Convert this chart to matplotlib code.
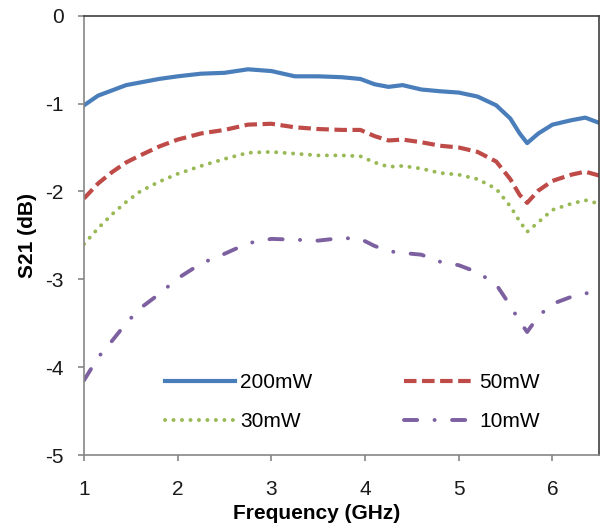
import matplotlib
matplotlib.use("Agg")
import matplotlib.pyplot as plt

plt.rcParams["font.family"] = ["Liberation Sans", "DejaVu Sans"]
plt.rcParams["axes.unicode_minus"] = False
plt.rcParams["lines.scale_dashes"] = False

# frequency points (GHz)
freq = [1.0, 1.15, 1.3, 1.45, 1.6, 1.8, 2.0, 2.25, 2.5, 2.75, 3.0, 3.25, 3.5, 3.75, 3.95,
        4.1, 4.25, 4.4, 4.6, 4.8, 5.0, 5.2, 5.4, 5.55, 5.65, 5.73, 5.85, 6.0, 6.2, 6.35, 6.5]

# S21 (dB) for each pump power
s21_200mw = [-1.02, -0.91, -0.85, -0.79, -0.76, -0.72, -0.69, -0.66, -0.65, -0.61, -0.63, -0.69,
             -0.69, -0.70, -0.72, -0.78, -0.81, -0.79, -0.84, -0.86, -0.875, -0.92, -1.02, -1.17,
             -1.34, -1.45, -1.34, -1.24, -1.19, -1.16, -1.22]
s21_50mw = [-2.08, -1.91, -1.78, -1.67, -1.59, -1.49, -1.41, -1.34, -1.30, -1.24, -1.23, -1.27,
            -1.29, -1.30, -1.30, -1.37, -1.42, -1.41, -1.44, -1.48, -1.50, -1.55, -1.66, -1.86,
            -2.04, -2.13, -1.99, -1.88, -1.81, -1.775, -1.82]
s21_30mw = [-2.60, -2.42, -2.26, -2.12, -2.00, -1.89, -1.80, -1.71, -1.63, -1.56, -1.55, -1.57,
            -1.59, -1.59, -1.60, -1.67, -1.72, -1.71, -1.74, -1.79, -1.81, -1.86, -1.97, -2.17,
            -2.34, -2.46, -2.35, -2.21, -2.14, -2.10, -2.14]
s21_10mw = [-4.15, -3.89, -3.70, -3.50, -3.33, -3.17, -2.99, -2.82, -2.71, -2.59, -2.54, -2.55,
            -2.56, -2.53, -2.54, -2.62, -2.68, -2.70, -2.72, -2.80, -2.84, -2.92, -3.06, -3.30,
            -3.48, -3.60, -3.42, -3.28, -3.20, -3.16, -3.15]

x_ticks = [1, 2, 3, 4, 5, 6]
y_ticks = [-5, -4, -3, -2, -1, 0]

fig = plt.figure(figsize=(6.03, 5.27), dpi=100)
ax = fig.add_axes([84 / 603, 1 - 455 / 527, 515.3 / 603, 439.3 / 527])

l200, = ax.plot(freq, s21_200mw, color="#4a7ebb", lw=3, label="200mW")
l50, = ax.plot(freq, s21_50mw, color="#be4b48", lw=3, dashes=(9, 4), label="50mW")
l30, = ax.plot(freq, s21_30mw, color="#98b954", lw=2.8, dashes=(0.1, 6),
               dash_capstyle="round", label="30mW")
l10, = ax.plot(freq, s21_10mw, color="#7d60a0", lw=2.8, dashes=(9.5, 12.5, 0.1, 12.5),
               dash_capstyle="round", label="10mW")

ax.set_xlim(1, 6.5)
ax.set_ylim(-5, 0)
ax.set_xticks(x_ticks)
ax.set_yticks(y_ticks)

for side in ["left", "bottom"]:
    ax.spines[side].set_color("#868686")
for side in ["top", "right"]:
    ax.spines[side].set_color("#404040")
for s in ax.spines.values():
    s.set_linewidth(1.2)

ax.tick_params(axis="y", direction="out", length=4.3, width=1.2, color="#868686",
               labelsize=15, pad=10.5, labelcolor="#1a1a1a")
ax.tick_params(axis="x", direction="out", length=4.3, width=1.2, color="#868686",
               labelsize=15, pad=14, labelcolor="#1a1a1a")

ax.set_xlabel("Frequency (GHz)", fontsize=15, fontweight="bold")
ax.set_ylabel("S21 (dB)", fontsize=15, fontweight="bold")
ax.xaxis.set_label_coords(0.452, -0.112)
ax.yaxis.set_label_coords(-0.091, 0.5)

# legend is filled column by column, so order handles to get rows 200/50 and 30/10
handles = [l200, l30, l50, l10]
ax.legend(handles=handles, labels=[h.get_label() for h in handles],
          loc="upper left", bbox_to_anchor=(0.157, 0.186), ncol=2, frameon=False,
          fontsize=15, handlelength=3.37, handletextpad=0.25, columnspacing=4.4,
          labelspacing=0.95, borderpad=0, borderaxespad=0)

fig.savefig("out.png", dpi=100)
